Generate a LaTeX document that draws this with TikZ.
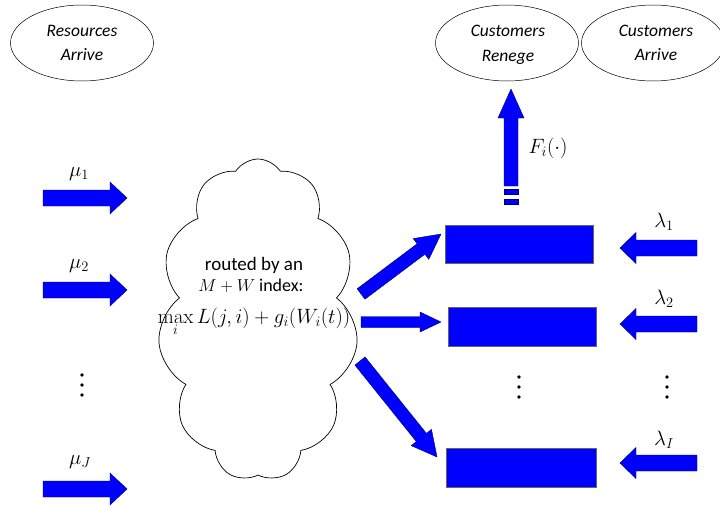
\documentclass[tikz,border=0pt]{standalone}
\usepackage[no-math]{fontspec}
\setmainfont{Carlito}
\usetikzlibrary{shapes.geometric,shapes.symbols,calc}
\definecolor{qblue}{RGB}{0,0,255}
\newcommand\blockarrow[6][]{%
  \coordinate (ba-h) at ($(#3)!#6!(#2)$);
  \draw[arr,#1] ($(#2)!#4!90:(#3)$) -- ($(ba-h)!#4!90:(#3)$) -- ($(ba-h)!#5!90:(#3)$) -- (#3)
    -- ($(ba-h)!#5!-90:(#3)$) -- ($(ba-h)!#4!-90:(#3)$) -- ($(#2)!#4!-90:(#3)$) -- cycle;}
\newcommand\dotcol[2]{%
  \fill (#1,#2-10) circle (1.9); \fill (#1,#2) circle (1.9); \fill (#1,#2+10) circle (1.9);}
\begin{document}
\begin{tikzpicture}[x=1pt,y=-1pt,
  ell/.style={ellipse, draw, line width=0.5pt, minimum width=143, minimum height=76, inner sep=0pt},
  etxt/.style={inner sep=0pt, font=\fontsize{17.5}{21}\selectfont\itshape},
  arr/.style={fill=qblue, draw=black!60!blue, line width=0.4pt, line join=miter},
  queue/.style={rectangle, fill=qblue, draw=black!60, line width=0.5pt, inner sep=0pt},
  lab/.style={inner sep=0pt, font=\fontsize{20}{24}\selectfont},
  txt/.style={inner sep=0pt, font=\fontsize{19}{22}\selectfont}]
\useasboundingbox (0,0) rectangle (720,506);
\fill[white] (0,0) rectangle (720,506);

% ellipses
\node[ell] (res) at (82,43) {};
\node[ell] (ren) at (507,43) {};
\node[ell] (carr) at (653,43) {};
\node[etxt] (res1) at (82,31) {Resources};
\node[etxt] (res2) at (82,55) {Arrive};
\node[etxt] (ren1) at (508,31) {Customers};
\node[etxt, anchor=base] (ren2) at (508,61) {Renege};
\node[etxt] (carr1) at (656,31) {Customers};
\node[etxt] (carr2) at (656,55) {Arrive};

% cloud
\node[cloud, draw, line width=0.7pt, cloud puffs=11, cloud puff arc=115, aspect=0.62,
      minimum width=200, minimum height=322] (router) at (258,320) {};
\node[txt] (t1) at (254,265) {routed by an};
\node[txt, font=\fontsize{18}{22}\selectfont] (t2) at (251,286) {$M+W$ index:};
\node[txt, anchor=base, font=\fontsize{20}{22}\selectfont] (t3) at (254,323) {$\max\limits_i L(j,i)+g_i(W_i(t))$};

% queues
\node[queue, minimum width=148, minimum height=38] (q1) at (519,244) {};
\node[queue, minimum width=148, minimum height=39] (q2) at (522,326.5) {};
\node[queue, minimum width=150, minimum height=39] (qI) at (521,467.5) {};

% left arrows
\coordinate (a1s) at (43,198);  \coordinate (a1e) at (127,198);
\coordinate (a2s) at (43,290);  \coordinate (a2e) at (127,290);
\coordinate (aJs) at (43,489);  \coordinate (aJe) at (127,489);
\blockarrow{a1s}{a1e}{8pt}{16pt}{17pt}
\blockarrow{a2s}{a2e}{8pt}{16pt}{17pt}
\blockarrow{aJs}{aJe}{8pt}{16pt}{17pt}
\node[lab] (mu1) at (79,174) {$\mu_1$};
\node[lab] (mu2) at (79,266) {$\mu_2$};
\node[lab] (muJ) at (80,462) {$\mu_J$};
\dotcol{82}{385}

% right arrows
\coordinate (l1s) at (697,248); \coordinate (l1e) at (620,248);
\coordinate (l2s) at (697,324); \coordinate (l2e) at (620,324);
\coordinate (lIs) at (697,463); \coordinate (lIe) at (620,463);
\blockarrow{l1s}{l1e}{8pt}{15.5pt}{16pt}
\blockarrow{l2s}{l2e}{8pt}{15.5pt}{16pt}
\blockarrow{lIs}{lIe}{8pt}{15.5pt}{16pt}
\node[lab] (lam1) at (664,222) {$\lambda_1$};
\node[lab] (lam2) at (664,299) {$\lambda_2$};
\node[lab] (lamI) at (664,440) {$\lambda_I$};
\dotcol{667}{387}
\dotcol{519}{387}

% router to queues
\coordinate (r1s) at (361,294); \coordinate (r1e) at (441,234);
\coordinate (r2s) at (361,322); \coordinate (r2e) at (441,322);
\coordinate (r3s) at (360,361); \coordinate (r3e) at (437,457);
\blockarrow{r1s}{r1e}{6.5pt}{13pt}{25pt}
\blockarrow{r2s}{r2e}{5.5pt}{10pt}{21pt}
\blockarrow{r3s}{r3e}{6.5pt}{13pt}{25pt}

% reneging arrow
\coordinate (us) at (511,186); \coordinate (ue) at (511,89);
\blockarrow{us}{ue}{7pt}{13pt}{29pt}
\draw[arr] (504,189) rectangle (518,194);
\draw[arr] (504,199) rectangle (518,204);
\node[lab] (F) at (548,148) {$F_i(\cdot)$};
\end{tikzpicture}
\end{document}
